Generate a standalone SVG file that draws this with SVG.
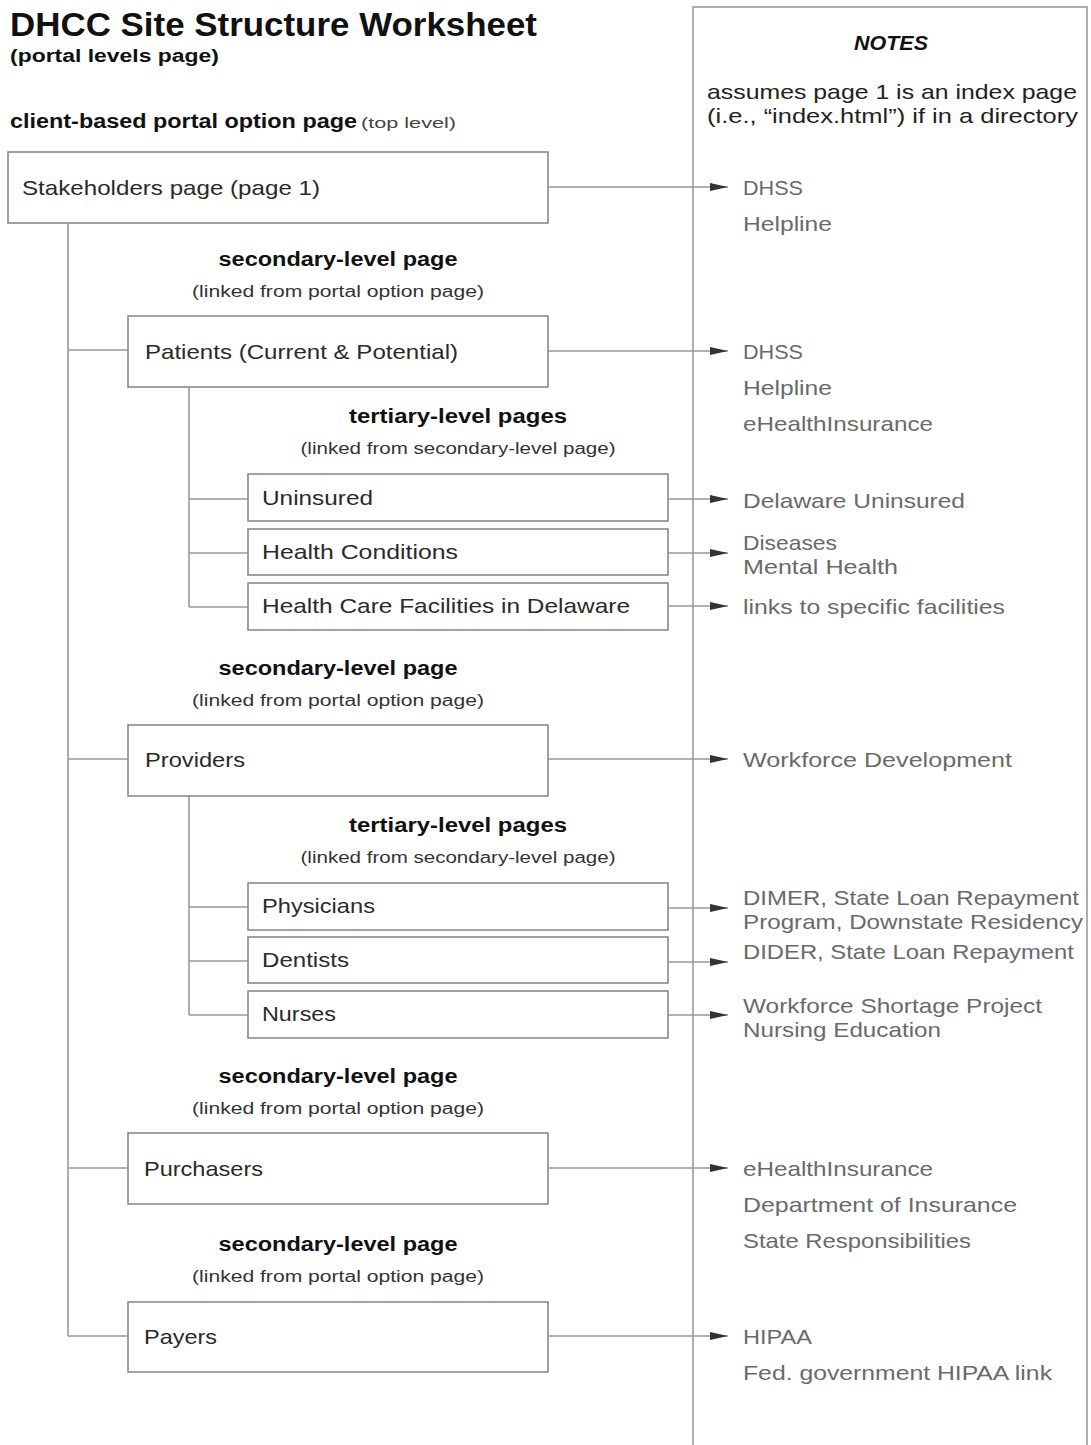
<svg xmlns="http://www.w3.org/2000/svg" width="1091" height="1445" viewBox="0 0 1091 1445">
<defs>
<marker id="arr" markerUnits="userSpaceOnUse" markerWidth="20" markerHeight="10" refX="18" refY="4.5" orient="auto">
<path d="M0,0.5 L18,4.5 L0,8.5 Z" fill="#333"/>
</marker>
<style>
text{font-family:"Liberation Sans",Arial,sans-serif;}
.box{fill:#fff;stroke:#8a8a8a;stroke-width:1.6;}
.ln{fill:none;stroke:#999;stroke-width:1.6;}
.ar{fill:none;stroke:#999;stroke-width:1.6;marker-end:url(#arr);}
.nt{font-size:21px;fill:#2a2a2a;}
.h2{font-size:20px;font-weight:bold;fill:#111;}
.sub{font-size:16px;fill:#333;}
.note{font-size:21px;fill:#6a6a6a;}
.ndark{font-size:21px;fill:#222;}
</style>
</defs>
<rect width="1091" height="1445" fill="#fff"/>

<g id="header">
<text x="10" y="36" font-size="33" font-weight="bold" fill="#111" textLength="527" lengthAdjust="spacingAndGlyphs">DHCC Site Structure Worksheet</text>
<text x="10" y="62" font-size="18" font-weight="bold" fill="#111" textLength="209" lengthAdjust="spacingAndGlyphs">(portal levels page)</text>
<text x="10" y="128" class="h2" textLength="347" lengthAdjust="spacingAndGlyphs">client-based portal option page</text>
<text x="361" y="128" font-size="14" fill="#444" textLength="95" lengthAdjust="spacingAndGlyphs">(top level)</text>
</g>

<g id="notes-panel">
<rect x="693" y="7" width="394" height="1450" fill="none" stroke="#9a9a9a" stroke-width="1.6"/>
<text x="891" y="50" font-size="21" font-weight="bold" font-style="italic" fill="#111" text-anchor="middle" textLength="74" lengthAdjust="spacingAndGlyphs">NOTES</text>
<text x="707" y="99" class="ndark" textLength="370" lengthAdjust="spacingAndGlyphs">assumes page 1 is an index page</text>
<text x="707" y="123" class="ndark" textLength="371" lengthAdjust="spacingAndGlyphs">(i.e., “index.html”) if in a directory</text>
</g>

<g id="connectors">
<path class="ln" d="M68,223 V1336 M68,350 H128 M68,759 H128 M68,1168 H128 M68,1336 H128"/>
<path class="ln" d="M189,387 V607 M189,499 H248 M189,553 H248 M189,607 H248"/>
<path class="ln" d="M189,795 V1015 M189,907 H248 M189,961 H248 M189,1015 H248"/>
<line class="ar" x1="548" y1="187" x2="728" y2="187"/>
<line class="ar" x1="548" y1="351" x2="728" y2="351"/>
<line class="ar" x1="668" y1="499" x2="728" y2="499"/>
<line class="ar" x1="668" y1="553" x2="728" y2="553"/>
<line class="ar" x1="668" y1="606" x2="728" y2="606"/>
<line class="ar" x1="548" y1="759" x2="728" y2="759"/>
<line class="ar" x1="668" y1="908" x2="728" y2="908"/>
<line class="ar" x1="668" y1="962" x2="728" y2="962"/>
<line class="ar" x1="668" y1="1015" x2="728" y2="1015"/>
<line class="ar" x1="548" y1="1168" x2="728" y2="1168"/>
<line class="ar" x1="548" y1="1336" x2="728" y2="1336"/>
</g>

<g id="labels">
<text x="338" y="266" class="h2" text-anchor="middle" textLength="239" lengthAdjust="spacingAndGlyphs">secondary-level page</text>
<text x="338" y="297" class="sub" text-anchor="middle" textLength="292" lengthAdjust="spacingAndGlyphs">(linked from portal option page)</text>
<text x="458" y="423" class="h2" text-anchor="middle" textLength="218" lengthAdjust="spacingAndGlyphs">tertiary-level pages</text>
<text x="458" y="454" class="sub" text-anchor="middle" textLength="315" lengthAdjust="spacingAndGlyphs">(linked from secondary-level page)</text>
<text x="338" y="675" class="h2" text-anchor="middle" textLength="239" lengthAdjust="spacingAndGlyphs">secondary-level page</text>
<text x="338" y="706" class="sub" text-anchor="middle" textLength="292" lengthAdjust="spacingAndGlyphs">(linked from portal option page)</text>
<text x="458" y="832" class="h2" text-anchor="middle" textLength="218" lengthAdjust="spacingAndGlyphs">tertiary-level pages</text>
<text x="458" y="863" class="sub" text-anchor="middle" textLength="315" lengthAdjust="spacingAndGlyphs">(linked from secondary-level page)</text>
<text x="338" y="1083" class="h2" text-anchor="middle" textLength="239" lengthAdjust="spacingAndGlyphs">secondary-level page</text>
<text x="338" y="1114" class="sub" text-anchor="middle" textLength="292" lengthAdjust="spacingAndGlyphs">(linked from portal option page)</text>
<text x="338" y="1251" class="h2" text-anchor="middle" textLength="239" lengthAdjust="spacingAndGlyphs">secondary-level page</text>
<text x="338" y="1282" class="sub" text-anchor="middle" textLength="292" lengthAdjust="spacingAndGlyphs">(linked from portal option page)</text>
</g>

<g id="node-stakeholders">
<rect class="box" x="8" y="152" width="540" height="71"/>
<text x="22" y="195" class="nt" textLength="298" lengthAdjust="spacingAndGlyphs">Stakeholders page (page 1)</text>
</g>
<g id="node-patients">
<rect class="box" x="128" y="316" width="420" height="71"/>
<text x="145" y="359" class="nt" textLength="313" lengthAdjust="spacingAndGlyphs">Patients (Current &amp; Potential)</text>
</g>
<g id="node-uninsured">
<rect class="box" x="248" y="474" width="420" height="47"/>
<text x="262" y="505" class="nt" textLength="111" lengthAdjust="spacingAndGlyphs">Uninsured</text>
</g>
<g id="node-health-conditions">
<rect class="box" x="248" y="529" width="420" height="46"/>
<text x="262" y="559" class="nt" textLength="196" lengthAdjust="spacingAndGlyphs">Health Conditions</text>
</g>
<g id="node-facilities">
<rect class="box" x="248" y="583" width="420" height="47"/>
<text x="262" y="613" class="nt" textLength="368" lengthAdjust="spacingAndGlyphs">Health Care Facilities in Delaware</text>
</g>
<g id="node-providers">
<rect class="box" x="128" y="725" width="420" height="71"/>
<text x="145" y="767" class="nt" textLength="100" lengthAdjust="spacingAndGlyphs">Providers</text>
</g>
<g id="node-physicians">
<rect class="box" x="248" y="883" width="420" height="47"/>
<text x="262" y="913" class="nt" textLength="113" lengthAdjust="spacingAndGlyphs">Physicians</text>
</g>
<g id="node-dentists">
<rect class="box" x="248" y="937" width="420" height="46"/>
<text x="262" y="967" class="nt" textLength="87" lengthAdjust="spacingAndGlyphs">Dentists</text>
</g>
<g id="node-nurses">
<rect class="box" x="248" y="991" width="420" height="47"/>
<text x="262" y="1021" class="nt" textLength="74" lengthAdjust="spacingAndGlyphs">Nurses</text>
</g>
<g id="node-purchasers">
<rect class="box" x="128" y="1133" width="420" height="71"/>
<text x="144" y="1176" class="nt" textLength="119" lengthAdjust="spacingAndGlyphs">Purchasers</text>
</g>
<g id="node-payers">
<rect class="box" x="128" y="1302" width="420" height="70"/>
<text x="144" y="1344" class="nt" textLength="73" lengthAdjust="spacingAndGlyphs">Payers</text>
</g>

<g id="notes">
<text x="743" y="195" class="note" textLength="60" lengthAdjust="spacingAndGlyphs">DHSS</text>
<text x="743" y="231" class="note" textLength="89" lengthAdjust="spacingAndGlyphs">Helpline</text>
<text x="743" y="359" class="note" textLength="60" lengthAdjust="spacingAndGlyphs">DHSS</text>
<text x="743" y="395" class="note" textLength="89" lengthAdjust="spacingAndGlyphs">Helpline</text>
<text x="743" y="431" class="note" textLength="190" lengthAdjust="spacingAndGlyphs">eHealthInsurance</text>
<text x="743" y="508" class="note" textLength="222" lengthAdjust="spacingAndGlyphs">Delaware Uninsured</text>
<text x="743" y="550" class="note" textLength="94" lengthAdjust="spacingAndGlyphs">Diseases</text>
<text x="743" y="574" class="note" textLength="155" lengthAdjust="spacingAndGlyphs">Mental Health</text>
<text x="743" y="614" class="note" textLength="262" lengthAdjust="spacingAndGlyphs">links to specific facilities</text>
<text x="743" y="767" class="note" textLength="269" lengthAdjust="spacingAndGlyphs">Workforce Development</text>
<text x="743" y="905" class="note" textLength="336" lengthAdjust="spacingAndGlyphs">DIMER, State Loan Repayment</text>
<text x="743" y="929" class="note" textLength="340" lengthAdjust="spacingAndGlyphs">Program, Downstate Residency</text>
<text x="743" y="959" class="note" textLength="331" lengthAdjust="spacingAndGlyphs">DIDER, State Loan Repayment</text>
<text x="743" y="1013" class="note" textLength="299" lengthAdjust="spacingAndGlyphs">Workforce Shortage Project</text>
<text x="743" y="1037" class="note" textLength="198" lengthAdjust="spacingAndGlyphs">Nursing Education</text>
<text x="743" y="1176" class="note" textLength="190" lengthAdjust="spacingAndGlyphs">eHealthInsurance</text>
<text x="743" y="1212" class="note" textLength="274" lengthAdjust="spacingAndGlyphs">Department of Insurance</text>
<text x="743" y="1248" class="note" textLength="228" lengthAdjust="spacingAndGlyphs">State Responsibilities</text>
<text x="743" y="1344" class="note" textLength="69" lengthAdjust="spacingAndGlyphs">HIPAA</text>
<text x="743" y="1380" class="note" textLength="309" lengthAdjust="spacingAndGlyphs">Fed. government HIPAA link</text>
</g>
</svg>
